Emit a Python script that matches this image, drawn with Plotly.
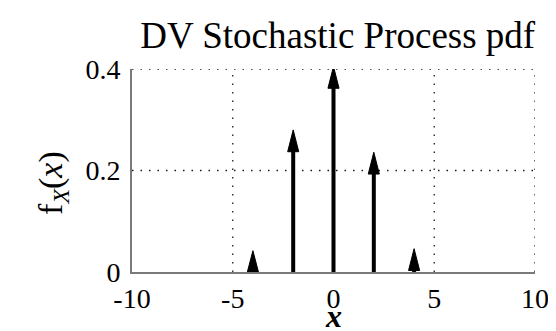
import plotly.graph_objects as go

# data
x_vals = [-4, -2, 0, 2, 4]
pdf_vals = [0.042, 0.28, 0.405, 0.236, 0.046]
x_ticks = [-10, -5, 0, 5, 10]
x_ticktext = ["-10", "-5", "0", "5", "10"]
y_ticks = [0, 0.2, 0.4]
y_ticktext = ["0", "0.2", "0.4"]

SERIF = "Liberation Serif, Times New Roman, serif"
HEAD_HALF_W = 0.275  # arrow head half width (x units)
HEAD_LEN = 0.043     # arrow head length (y units)

fig = go.Figure()

# dotted grid lines (skip those lying on the axis lines)
for xv in x_ticks[1:]:
    fig.add_shape(type="line", xref="x", yref="paper", x0=xv, x1=xv, y0=0, y1=1,
                  line=dict(color="#1a1a1a", width=1.3, dash="1.5px,7px"), layer="below")
for yv in y_ticks[1:]:
    fig.add_shape(type="line", xref="paper", yref="y", x0=0, x1=1, y0=yv, y1=yv,
                  line=dict(color="#1a1a1a", width=1.3, dash="1.5px,7px"), layer="below")

# stems
stem_x, stem_y = [], []
for xv, pv in zip(x_vals, pdf_vals):
    stem_x += [xv, xv, None]
    stem_y += [0, max(pv - HEAD_LEN * 0.5, 0), None]
fig.add_trace(go.Scatter(
    x=stem_x, y=stem_y, mode="lines",
    line=dict(color="black", width=4),
    hoverinfo="skip", showlegend=False, cliponaxis=False,
))

# arrow heads
head_x, head_y = [], []
for xv, pv in zip(x_vals, pdf_vals):
    base = max(pv - HEAD_LEN, 0)
    head_x += [xv - HEAD_HALF_W, xv, xv + HEAD_HALF_W, xv - HEAD_HALF_W, None]
    head_y += [base, pv, base, base, None]
fig.add_trace(go.Scatter(
    x=head_x, y=head_y, mode="lines", fill="toself", fillcolor="black",
    line=dict(color="black", width=1),
    hoverinfo="skip", showlegend=False, cliponaxis=False,
))

fig.update_layout(
    width=556, height=331,
    margin=dict(l=124, r=29, t=61, b=67),
    paper_bgcolor="white", plot_bgcolor="white",
    font=dict(family=SERIF, color="black", size=28),
    title=dict(text="DV Stochastic Process pdf", x=0.593, xanchor="center",
               xref="container",
               y=0.879, yanchor="bottom", yref="container",
               font=dict(family=SERIF, size=37, color="black")),
    xaxis=dict(range=[-10, 10], tickvals=x_ticks, ticktext=x_ticktext,
               showline=True, linecolor="#7a7a7a", linewidth=2,
               showgrid=False, zeroline=False, ticks="", ticklen=0,
               ticklabelstandoff=0,
               tickfont=dict(family=SERIF, size=28)),
    yaxis=dict(range=[0, 0.4], tickvals=y_ticks, ticktext=y_ticktext,
               showline=True, linecolor="#7a7a7a", linewidth=2,
               showgrid=False, zeroline=False, ticks="", ticklen=0,
               ticklabelstandoff=4,
               tickfont=dict(family=SERIF, size=28)),
    annotations=[
        dict(text="<b><i>x</i></b>", xref="paper", yref="paper", x=0.5, y=-0.215,
             xanchor="center", yanchor="middle", showarrow=False,
             font=dict(family=SERIF, size=32, color="black")),
        dict(text="f<sub><i>X</i></sub>(<i>x</i>)", xref="paper", yref="paper",
             x=-0.198, y=0.44, xanchor="center", yanchor="middle",
             textangle=-90, showarrow=False,
             font=dict(family=SERIF, size=34, color="black")),
    ],
)

fig.write_html("out.html")
